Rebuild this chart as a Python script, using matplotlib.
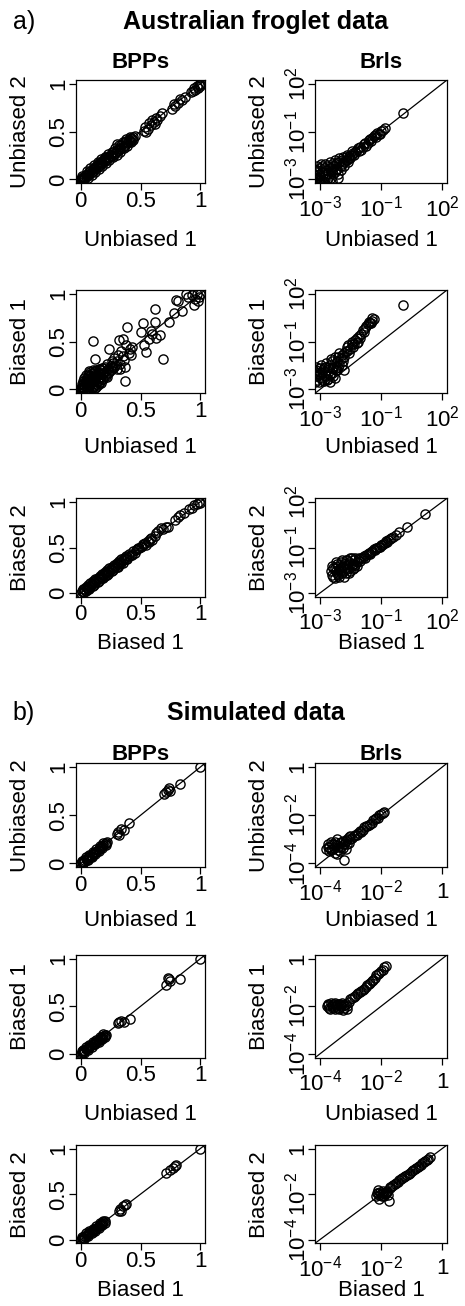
import numpy as np
import matplotlib.pyplot as plt

plt.rcParams['font.family'] = ['Liberation Sans', 'DejaVu Sans']
plt.rcParams['mathtext.fontset'] = 'custom'
plt.rcParams['mathtext.rm'] = 'Liberation Sans'
plt.rcParams['mathtext.it'] = 'Liberation Sans:italic'
plt.rcParams['mathtext.bf'] = 'Liberation Sans:bold'

W, H = 465, 1306

# ---- BPPs (posterior probabilities), pairs of (x, y) ----
froglet_bpp_u1_u2 = [
    (0.00, 0.01), (0.01, 0.00), (0.02, 0.03), (0.02, 0.01), (0.03, 0.02), (0.04, 0.05), (0.04, 0.03),
    (0.05, 0.06), (0.06, 0.05), (0.07, 0.08), (0.07, 0.06), (0.08, 0.09), (0.09, 0.08), (0.10, 0.11),
    (0.10, 0.09), (0.11, 0.12), (0.12, 0.11), (0.13, 0.14), (0.14, 0.13), (0.14, 0.15), (0.15, 0.17),
    (0.16, 0.15), (0.17, 0.18), (0.18, 0.17), (0.19, 0.20), (0.20, 0.21), (0.20, 0.19), (0.21, 0.23),
    (0.22, 0.21), (0.23, 0.24), (0.24, 0.23), (0.25, 0.26), (0.26, 0.25), (0.27, 0.29), (0.28, 0.27),
    (0.29, 0.28), (0.30, 0.31), (0.31, 0.30), (0.32, 0.33), (0.33, 0.32), (0.34, 0.36), (0.35, 0.34),
    (0.36, 0.38), (0.37, 0.36), (0.38, 0.40), (0.39, 0.38), (0.40, 0.41), (0.41, 0.40), (0.42, 0.43),
    (0.43, 0.42), (0.44, 0.44), (0.30, 0.37),
    (0.01, 0.04), (0.03, 0.00), (0.05, 0.09), (0.06, 0.02), (0.08, 0.12), (0.09, 0.05), (0.11, 0.15),
    (0.12, 0.08), (0.14, 0.18), (0.15, 0.11), (0.17, 0.21), (0.18, 0.14), (0.20, 0.24), (0.21, 0.17),
    (0.23, 0.27), (0.24, 0.20), (0.26, 0.29), (0.27, 0.23), (0.29, 0.33), (0.30, 0.26), (0.32, 0.36),
    (0.33, 0.29), (0.35, 0.39), (0.36, 0.33), (0.38, 0.42), (0.39, 0.35), (0.41, 0.44), (0.42, 0.39),
    (0.44, 0.41), (0.45, 0.45), (0.00, 0.00), (0.01, 0.01), (0.03, 0.03), (0.05, 0.05),
    (0.53, 0.51), (0.54, 0.55), (0.56, 0.53), (0.57, 0.59), (0.59, 0.57), (0.60, 0.62), (0.61, 0.60),
    (0.63, 0.64), (0.64, 0.62), (0.66, 0.66), (0.68, 0.69), (0.55, 0.50), (0.62, 0.58),
    (0.76, 0.74), (0.78, 0.79), (0.79, 0.77), (0.81, 0.80), (0.83, 0.84), (0.85, 0.83), (0.87, 0.86),
    (0.92, 0.91), (0.94, 0.93), (0.95, 0.96), (0.96, 0.94), (0.97, 0.98), (0.98, 0.96), (0.99, 0.99),
    (1.00, 1.00), (1.00, 0.98),
]
froglet_bpp_u1_b1 = [
    (0.00, 0.00), (0.01, 0.03), (0.02, 0.01), (0.02, 0.06), (0.03, 0.02), (0.04, 0.09), (0.04, 0.04),
    (0.05, 0.12), (0.05, 0.01), (0.06, 0.07), (0.06, 0.15), (0.07, 0.03), (0.07, 0.10), (0.08, 0.18),
    (0.08, 0.05), (0.09, 0.13), (0.09, 0.02), (0.10, 0.08), (0.10, 0.20), (0.11, 0.04), (0.11, 0.15),
    (0.12, 0.10), (0.12, 0.19), (0.13, 0.06), (0.13, 0.13), (0.14, 0.17), (0.14, 0.09), (0.15, 0.21),
    (0.15, 0.12), (0.16, 0.08), (0.16, 0.16), (0.17, 0.20), (0.17, 0.13), (0.18, 0.11), (0.18, 0.22),
    (0.19, 0.17), (0.20, 0.15), (0.20, 0.24), (0.21, 0.19), (0.22, 0.13), (0.22, 0.27), (0.23, 0.21),
    (0.24, 0.18), (0.24, 0.42), (0.25, 0.25), (0.26, 0.30), (0.27, 0.22), (0.27, 0.28), (0.28, 0.33),
    (0.29, 0.26), (0.30, 0.30), (0.30, 0.21), (0.31, 0.36), (0.32, 0.52), (0.33, 0.27), (0.33, 0.21),
    (0.34, 0.40), (0.35, 0.35), (0.35, 0.53), (0.36, 0.31), (0.37, 0.23), (0.37, 0.09), (0.38, 0.47),
    (0.39, 0.65), (0.40, 0.38), (0.41, 0.42), (0.42, 0.36), (0.43, 0.44), (0.10, 0.51), (0.12, 0.32),
    (0.00, 0.02), (0.01, 0.00), (0.01, 0.06), (0.02, 0.09), (0.03, 0.05), (0.03, 0.12), (0.04, 0.00),
    (0.04, 0.15), (0.05, 0.07), (0.06, 0.11), (0.06, 0.00), (0.07, 0.14), (0.07, 0.19), (0.08, 0.01),
    (0.08, 0.10), (0.09, 0.17), (0.10, 0.03), (0.10, 0.13), (0.11, 0.18), (0.11, 0.09), (0.12, 0.02),
    (0.12, 0.14), (0.13, 0.20), (0.13, 0.03), (0.14, 0.05), (0.14, 0.12), (0.15, 0.07), (0.15, 0.17),
    (0.16, 0.12), (0.16, 0.21), (0.17, 0.07), (0.18, 0.16), (0.19, 0.22), (0.19, 0.11), (0.21, 0.14),
    (0.23, 0.17), (0.25, 0.20), (0.26, 0.24), (0.28, 0.23), (0.05, 0.03), (0.02, 0.03), (0.03, 0.08),
    (0.50, 0.60), (0.52, 0.69), (0.53, 0.47), (0.55, 0.39), (0.57, 0.53), (0.59, 0.61), (0.60, 0.58),
    (0.62, 0.71), (0.62, 0.84), (0.63, 0.54), (0.66, 0.57), (0.69, 0.32), (0.74, 0.71), (0.78, 0.80),
    (0.80, 0.94), (0.81, 0.93), (0.85, 0.82), (0.88, 1.00), (0.90, 0.97), (0.93, 0.99), (0.95, 0.88),
    (0.96, 0.95), (0.97, 1.00), (0.99, 0.97), (1.00, 1.00), (0.98, 0.92),
]
froglet_bpp_b1_b2 = [
    (0.00, 0.00), (0.01, 0.02), (0.02, 0.01), (0.03, 0.04), (0.04, 0.02), (0.05, 0.06), (0.06, 0.04),
    (0.07, 0.08), (0.08, 0.07), (0.09, 0.10), (0.10, 0.08), (0.11, 0.12), (0.12, 0.11), (0.13, 0.14),
    (0.14, 0.12), (0.15, 0.16), (0.16, 0.15), (0.17, 0.18), (0.18, 0.16), (0.19, 0.20), (0.20, 0.19),
    (0.21, 0.22), (0.22, 0.20), (0.23, 0.24), (0.24, 0.23), (0.25, 0.26), (0.26, 0.24), (0.27, 0.28),
    (0.28, 0.27), (0.29, 0.30), (0.30, 0.29), (0.31, 0.32), (0.32, 0.31), (0.33, 0.34), (0.34, 0.33),
    (0.35, 0.36), (0.37, 0.38), (0.38, 0.37), (0.40, 0.41), (0.42, 0.42), (0.44, 0.46), (0.45, 0.44),
    (0.02, 0.04), (0.04, 0.07), (0.06, 0.09), (0.08, 0.11), (0.10, 0.13), (0.12, 0.15), (0.14, 0.17),
    (0.16, 0.19), (0.18, 0.21), (0.20, 0.23), (0.22, 0.25), (0.24, 0.27), (0.26, 0.29), (0.28, 0.31),
    (0.30, 0.33), (0.32, 0.35), (0.34, 0.37), (0.36, 0.39), (0.38, 0.41), (0.40, 0.43), (0.03, 0.01),
    (0.07, 0.05), (0.11, 0.09), (0.15, 0.13), (0.19, 0.17), (0.23, 0.21), (0.27, 0.25), (0.31, 0.29),
    (0.35, 0.33), (0.39, 0.37), (0.43, 0.42), (0.46, 0.47), (0.48, 0.49), (0.50, 0.51), (0.52, 0.54),
    (0.54, 0.55), (0.56, 0.57), (0.58, 0.59),
    (0.47, 0.48), (0.49, 0.50), (0.51, 0.52), (0.53, 0.54), (0.55, 0.53), (0.57, 0.56), (0.59, 0.60),
    (0.60, 0.58), (0.62, 0.63), (0.63, 0.66), (0.65, 0.68), (0.67, 0.71), (0.69, 0.70), (0.71, 0.72),
    (0.73, 0.73), (0.79, 0.80), (0.81, 0.84), (0.83, 0.86), (0.86, 0.88), (0.91, 0.92), (0.93, 0.93),
    (0.95, 0.97), (0.97, 0.98), (0.99, 1.00), (1.00, 0.99),
]
sim_bpp_u1_u2 = [
    (0.00, 0.00), (0.01, 0.01), (0.02, 0.02), (0.02, 0.00), (0.03, 0.04), (0.04, 0.05), (0.05, 0.04),
    (0.06, 0.06), (0.07, 0.07), (0.08, 0.08), (0.09, 0.08), (0.10, 0.10), (0.11, 0.11), (0.12, 0.12),
    (0.13, 0.12), (0.14, 0.14), (0.15, 0.15), (0.16, 0.16), (0.17, 0.17), (0.18, 0.18), (0.19, 0.19),
    (0.20, 0.20), (0.21, 0.21), (0.22, 0.22),
    (0.01, 0.03), (0.03, 0.01), (0.04, 0.07), (0.06, 0.04), (0.07, 0.09), (0.09, 0.07), (0.10, 0.12),
    (0.12, 0.10), (0.13, 0.15), (0.15, 0.13), (0.16, 0.18), (0.18, 0.16), (0.19, 0.21), (0.21, 0.19),
    (0.30, 0.31), (0.31, 0.33), (0.32, 0.30), (0.34, 0.36), (0.36, 0.35), (0.40, 0.42),
    (0.70, 0.72), (0.71, 0.74), (0.73, 0.76), (0.74, 0.78), (0.75, 0.75), (0.83, 0.83), (1.00, 1.00),
]
sim_bpp_u1_b1 = [
    (0.00, 0.00), (0.01, 0.01), (0.02, 0.02), (0.02, 0.04), (0.03, 0.03), (0.04, 0.05), (0.05, 0.05),
    (0.06, 0.06), (0.07, 0.07), (0.08, 0.08), (0.09, 0.09), (0.10, 0.10), (0.11, 0.10), (0.12, 0.12),
    (0.13, 0.13), (0.14, 0.14), (0.15, 0.15), (0.16, 0.16), (0.17, 0.17), (0.18, 0.18), (0.19, 0.19),
    (0.20, 0.20), (0.21, 0.20),
    (0.01, 0.03), (0.03, 0.01), (0.04, 0.07), (0.06, 0.04), (0.07, 0.09), (0.09, 0.07), (0.10, 0.12),
    (0.12, 0.10), (0.13, 0.15), (0.15, 0.13), (0.16, 0.18), (0.18, 0.16), (0.19, 0.21), (0.20, 0.18),
    (0.31, 0.32), (0.32, 0.34), (0.34, 0.35), (0.36, 0.34), (0.41, 0.37),
    (0.71, 0.72), (0.73, 0.80), (0.74, 0.79), (0.75, 0.77), (0.83, 0.79), (1.00, 1.00),
]
sim_bpp_b1_b2 = [
    (0.00, 0.00), (0.01, 0.01), (0.02, 0.02), (0.03, 0.02), (0.03, 0.04), (0.04, 0.04), (0.05, 0.05),
    (0.06, 0.06), (0.07, 0.07), (0.08, 0.08), (0.09, 0.09), (0.10, 0.10), (0.11, 0.11), (0.12, 0.12),
    (0.13, 0.13), (0.14, 0.14), (0.15, 0.15), (0.16, 0.16), (0.17, 0.17), (0.18, 0.18), (0.19, 0.19),
    (0.20, 0.20),
    (0.01, 0.03), (0.03, 0.01), (0.04, 0.07), (0.06, 0.04), (0.07, 0.09), (0.09, 0.07), (0.10, 0.12),
    (0.12, 0.10), (0.13, 0.15), (0.15, 0.13), (0.16, 0.18), (0.18, 0.16), (0.19, 0.21), (0.20, 0.18),
    (0.32, 0.32), (0.33, 0.34), (0.35, 0.37), (0.37, 0.38), (0.38, 0.39), (0.34, 0.31),
    (0.71, 0.73), (0.75, 0.76), (0.77, 0.79), (0.79, 0.81), (0.80, 0.82), (1.00, 1.00),
]

# ---- Brls, stored as log10 values, pairs of (x, y) ----
froglet_brl_u1_u2 = [
    (-3.20, -3.20), (-3.15, -2.90), (-3.10, -3.10), (-3.05, -2.70), (-3.00, -3.15), (-2.95, -2.95),
    (-2.90, -2.60), (-2.85, -3.10), (-2.80, -2.80), (-2.75, -2.50), (-2.70, -3.00), (-2.65, -2.65),
    (-2.60, -2.40), (-2.55, -2.90), (-2.50, -2.55), (-2.45, -2.30), (-2.40, -2.60), (-2.35, -2.20),
    (-2.30, -2.45), (-2.27, -2.91), (-2.20, -2.10), (-2.15, -2.30), (-2.10, -2.00), (-2.00, -2.10),
    (-1.95, -1.85), (-1.90, -2.00), (-1.80, -1.75), (-1.75, -1.90), (-1.65, -1.60), (-1.60, -1.70),
    (-1.50, -1.45), (-1.40, -1.50), (-1.35, -1.30), (-1.25, -1.30), (-1.15, -1.10), (-1.05, -1.10),
    (-0.95, -0.90), (-0.85, -0.85), (-0.75, -0.70), (-0.60, -0.60), (-0.48, -0.47), (0.41, 0.49),
    (-3.20, -2.50), (-3.10, -2.30), (-2.90, -2.30),
    (-3.20, -3.00), (-3.20, -2.80), (-3.15, -2.60), (-3.10, -2.90), (-3.10, -2.50), (-3.05, -3.20),
    (-3.00, -2.40), (-3.00, -2.80), (-2.95, -2.20), (-2.90, -3.15), (-2.85, -2.40), (-2.80, -2.20),
    (-2.80, -3.00), (-2.75, -2.70), (-2.70, -2.30), (-2.65, -2.90), (-2.60, -2.10), (-2.55, -2.50),
    (-2.50, -3.10), (-2.50, -2.20), (-2.45, -2.70), (-2.40, -2.00), (-2.35, -2.50), (-2.30, -2.10),
    (-2.25, -2.70), (-2.20, -1.90), (-2.15, -2.50), (-2.10, -2.20), (-2.05, -1.80), (-2.00, -2.30),
    (-1.95, -2.00), (-1.90, -1.70), (-1.85, -2.10), (-1.80, -1.90), (-1.70, -1.70), (-1.70, -1.50),
    (-1.55, -1.55), (-1.45, -1.35), (-1.30, -1.45), (-1.20, -1.15), (-1.10, -1.25), (-1.00, -0.95),
    (-0.90, -1.00), (-0.80, -0.75), (-0.70, -0.80), (-0.65, -0.55), (-0.55, -0.60), (-0.40, -0.42),
    (-0.35, -0.30),
]
froglet_brl_u1_b1 = [
    (-3.20, -2.30), (-3.15, -2.00), (-3.10, -2.50), (-3.05, -2.20), (-3.00, -1.90), (-2.95, -2.40),
    (-2.90, -2.10), (-2.85, -2.55), (-2.80, -1.80), (-2.75, -2.30), (-2.70, -2.00), (-2.65, -2.45),
    (-2.60, -1.70), (-2.55, -2.15), (-2.50, -1.50), (-2.45, -1.90), (-2.40, -2.40), (-2.35, -1.60),
    (-2.30, -2.00), (-2.25, -1.30), (-2.20, -1.70), (-2.10, -1.20), (-2.05, -1.50), (-1.95, -1.00),
    (-1.90, -0.80), (-1.80, -1.10), (-1.70, -0.60), (-1.65, -0.80), (-1.55, -0.40), (-1.45, -0.50),
    (-1.40, -0.20), (-1.30, -0.10), (-1.25, 0.10), (-1.15, 0.20), (-1.05, 0.40), (-0.95, 0.50),
    (-0.85, 0.60), (-0.80, 0.70), (0.41, 1.40), (-2.60, -2.60), (-2.00, -2.00),
    (-3.20, -2.60), (-3.20, -2.10), (-3.15, -1.80), (-3.10, -2.30), (-3.05, -2.60), (-3.00, -2.10),
    (-2.95, -1.70), (-2.90, -2.50), (-2.85, -1.90), (-2.80, -2.20), (-2.75, -1.60), (-2.70, -2.50),
    (-2.65, -1.80), (-2.60, -2.20), (-2.55, -1.40), (-2.50, -1.90), (-2.45, -2.30), (-2.40, -1.30),
    (-2.35, -2.00), (-2.30, -1.50), (-2.25, -1.80), (-2.20, -1.10), (-2.15, -1.40), (-2.10, -1.70),
    (-2.00, -1.10), (-2.00, -1.30), (-1.90, -1.00), (-1.85, -0.70), (-1.75, -0.90), (-1.70, -0.50),
    (-1.60, -0.60), (-1.50, -0.30), (-1.50, -0.55), (-1.35, -0.30), (-1.20, 0.00), (-1.10, 0.30),
    (-1.00, 0.55), (-0.90, 0.45), (-0.85, 0.75), (-2.34, -1.87),
]
froglet_brl_b1_b2 = [
    (-2.50, -2.00), (-2.45, -1.60), (-2.40, -2.20), (-2.35, -1.80), (-2.30, -1.40), (-2.25, -2.00),
    (-2.20, -1.70), (-2.15, -1.30), (-2.10, -1.90), (-2.05, -1.50), (-2.00, -2.10), (-1.95, -1.20),
    (-1.90, -1.70), (-1.85, -1.40), (-1.80, -1.90), (-1.75, -1.10), (-1.70, -1.50), (-1.65, -1.70),
    (-1.60, -1.20), (-1.55, -1.45), (-1.50, -1.30), (-1.40, -1.10), (-1.30, -1.05), (-1.20, -0.95),
    (-1.10, -0.90), (-1.00, -0.80), (-0.90, -0.75), (-0.80, -0.60), (-0.70, -0.55), (-0.60, -0.45),
    (-0.50, -0.35), (-0.40, -0.30), (-0.30, -0.15), (-0.20, -0.10), (-0.10, 0.00), (0.00, 0.10),
    (0.10, 0.20), (0.25, 0.35), (0.55, 0.62), (1.31, 1.32),
    (-2.55, -1.80), (-2.50, -1.50), (-2.45, -2.10), (-2.40, -1.60), (-2.35, -1.30), (-2.30, -1.90),
    (-2.25, -1.50), (-2.20, -2.10), (-2.15, -1.60), (-2.10, -1.20), (-2.05, -1.80), (-2.00, -1.40),
    (-1.95, -1.90), (-1.90, -1.20), (-1.85, -1.60), (-1.80, -1.30), (-1.75, -1.80), (-1.70, -1.10),
    (-1.65, -1.40), (-1.60, -1.60), (-1.55, -1.10), (-1.50, -1.50), (-1.45, -1.20), (-1.35, -1.25),
    (-1.25, -1.10), (-1.15, -1.05), (-1.05, -0.85), (-0.95, -0.85), (-0.85, -0.70), (-0.75, -0.65),
    (-0.65, -0.50), (-0.55, -0.45), (-0.45, -0.35), (-0.35, -0.25), (-0.25, -0.20), (-0.15, -0.05),
]
sim_brl_u1_u2 = [
    (-3.75, -3.30), (-3.70, -3.50), (-3.65, -3.10), (-3.60, -3.40), (-3.55, -3.20), (-3.50, -3.55),
    (-3.45, -3.00), (-3.40, -3.30), (-3.35, -3.50), (-3.30, -3.10), (-3.25, -3.35), (-3.20, -3.86),
    (-3.15, -3.05), (-3.10, -3.20), (-3.05, -2.90), (-3.00, -3.00), (-2.90, -2.85), (-2.80, -2.80),
    (-2.70, -2.65), (-2.60, -2.60), (-2.50, -2.45), (-2.40, -2.40), (-2.30, -2.30), (-2.20, -2.15),
    (-2.10, -2.10), (-2.00, -1.95), (-1.90, -1.85), (-3.45, -3.60), (-2.65, -2.70),
    (-3.80, -3.40), (-3.75, -3.20), (-3.70, -3.30), (-3.65, -3.45), (-3.60, -3.20), (-3.55, -3.35),
    (-3.50, -3.10), (-3.45, -3.25), (-3.40, -3.45), (-3.35, -3.15), (-3.30, -3.30), (-3.25, -3.05),
    (-3.20, -3.20), (-3.15, -3.40), (-3.10, -3.00), (-3.05, -3.15), (-3.00, -2.85), (-2.95, -2.95),
    (-2.85, -2.80), (-2.75, -2.75), (-2.55, -2.50), (-2.45, -2.45), (-2.35, -2.35), (-2.25, -2.20),
    (-2.15, -2.10), (-2.05, -2.00), (-1.95, -1.90),
]
sim_brl_u1_b1 = [
    (-3.75, -1.95), (-3.70, -2.05), (-3.65, -1.85), (-3.60, -2.00), (-3.55, -1.90), (-3.50, -2.10),
    (-3.45, -1.95), (-3.40, -2.05), (-3.35, -1.90), (-3.30, -2.00), (-3.25, -2.15), (-3.20, -1.95),
    (-3.10, -2.10), (-3.05, -1.80), (-3.00, -1.70), (-2.90, -1.60), (-2.80, -1.50), (-2.70, -1.40),
    (-2.60, -1.30), (-2.50, -1.20), (-2.40, -1.05), (-2.30, -0.95), (-2.20, -0.80), (-2.10, -0.65),
    (-2.00, -0.50), (-1.90, -0.35), (-1.85, -0.30),
    (-3.78, -2.00), (-3.72, -1.90), (-3.68, -2.10), (-3.62, -1.95), (-3.58, -2.05), (-3.52, -1.85),
    (-3.48, -2.00), (-3.42, -1.90), (-3.38, -2.10), (-3.32, -1.95), (-3.28, -1.85), (-3.22, -2.05),
    (-3.15, -1.90), (-3.12, -2.00), (-2.95, -1.65), (-2.85, -1.55), (-2.75, -1.45), (-2.65, -1.35),
    (-2.55, -1.25), (-2.45, -1.10), (-2.35, -1.00), (-2.25, -0.90), (-2.15, -0.70), (-2.05, -0.60),
    (-1.95, -0.45),
]
sim_brl_b1_b2 = [
    (-2.15, -2.10), (-2.10, -1.95), (-2.05, -2.20), (-2.00, -2.00), (-1.95, -1.85), (-1.90, -2.10),
    (-1.85, -1.95), (-2.10, -1.80), (-1.80, -1.85), (-1.75, -2.30), (-1.70, -1.70), (-1.60, -1.60),
    (-1.50, -1.50), (-1.40, -1.40), (-1.30, -1.30), (-1.20, -1.20), (-1.10, -1.10), (-1.00, -1.00),
    (-0.90, -0.90), (-0.80, -0.80), (-0.70, -0.70), (-0.60, -0.60), (-0.50, -0.50), (-0.40, -0.35),
    (-2.12, -1.95), (-2.08, -2.05), (-2.02, -1.90), (-1.98, -2.10), (-1.92, -1.95), (-1.88, -2.00),
    (-1.82, -1.90), (-1.78, -2.05), (-1.72, -1.75), (-1.65, -1.65), (-1.55, -1.55), (-1.45, -1.45),
    (-1.35, -1.35), (-1.25, -1.25), (-1.15, -1.15), (-1.05, -1.05), (-0.95, -0.95), (-0.85, -0.85),
    (-0.75, -0.75), (-0.65, -0.65), (-0.55, -0.55), (-0.45, -0.45),
]

bpp_data = [froglet_bpp_u1_u2, froglet_bpp_u1_b1, froglet_bpp_b1_b2,
            sim_bpp_u1_u2, sim_bpp_u1_b1, sim_bpp_b1_b2]
brl_data = [froglet_brl_u1_u2, froglet_brl_u1_b1, froglet_brl_b1_b2,
            sim_brl_u1_u2, sim_brl_u1_b1, sim_brl_b1_b2]

axis_names = [('Unbiased 1', 'Unbiased 2'), ('Unbiased 1', 'Biased 1'), ('Biased 1', 'Biased 2')] * 2
col_titles = ['BPPs', 'Brls']
group_titles = [('a)', 'Australian froglet data'), ('b)', 'Simulated data')]

bpp_ticks = [0, 0.5, 1]
bpp_ticklabels = ['0', '0.5', '1']
froglet_brl_ticks = [1e-3, 10 ** -0.5, 1e2]
froglet_brl_ticklabels = [r'$10^{-3}$', r'$10^{-1}$', r'$10^{2}$']
sim_brl_ticks = [1e-4, 1e-2, 1]
sim_brl_ticklabels = [r'$10^{-4}$', r'$10^{-2}$', '1']

# layout in pixels (top-left origin)
row_tops = [80, 290, 498.3, 763.3, 955, 1145]
row_bottoms = [183.3, 393.3, 596.7, 867.3, 1057.7, 1243.3]
xlabel_offsets = [63, 60, 52, 59, 62, 53]
col_lefts = [76, 315]
col_rights = [205, 447]

fig = plt.figure(figsize=(W / 100, H / 100), dpi=100)


def fx(px):
    return px / W


def fy(py):
    return 1 - py / H


def style_axes(ax, xpad):
    for sp in ax.spines.values():
        sp.set_linewidth(0.9)
    ax.tick_params(direction='out', length=5.0, width=0.9, labelsize=16, colors='black')
    ax.tick_params(axis='x', pad=xpad)
    ax.tick_params(axis='y', pad=7.5)
    for lab in ax.get_yticklabels():
        lab.set_rotation(90)
        lab.set_ha('center')
        lab.set_va('center')
    for lab in ax.get_xticklabels():
        lab.set_va('center')


for r in range(6):
    top, bottom = row_tops[r], row_bottoms[r]
    xname, yname = axis_names[r]
    froglet = r < 3
    for c in range(2):
        left, right = col_lefts[c], col_rights[c]
        ax = fig.add_axes([fx(left), fy(bottom), (right - left) / W, (bottom - top) / H])
        if c == 0:
            pts = np.array(bpp_data[r])
            lim = (-0.04, 1.04)
            ticks, labels = bpp_ticks, bpp_ticklabels
            xpad = 8.0
        else:
            pts = 10 ** np.array(brl_data[r])
            ax.set_xscale('log')
            ax.set_yscale('log')
            xpad = 13.0
            if froglet:
                lim = (10 ** -3.2, 10 ** 2.2)
                ticks, labels = froglet_brl_ticks, froglet_brl_ticklabels
            else:
                lim = (10 ** -4.16, 10 ** 0.16)
                ticks, labels = sim_brl_ticks, sim_brl_ticklabels
        ax.plot(pts[:, 0], pts[:, 1], 'o', mfc='none', mec='black', ms=6.6, mew=1.0)
        ax.plot(lim, lim, color='black', lw=0.9)
        ax.set_xlim(lim)
        ax.set_ylim(lim)
        ax.set_xticks(ticks, labels)
        ax.set_yticks(ticks, labels)
        ax.minorticks_off()
        style_axes(ax, xpad)

        cx = (left + right) / 2
        fig.text(fx(cx), fy(bottom + xlabel_offsets[r]), xname, fontsize=16,
                 ha='center', va='baseline')
        fig.text(fx(left - 50), fy((top + bottom) / 2), yname, fontsize=16, rotation=90,
                 rotation_mode='anchor', ha='center', va='baseline')
        if r in (0, 3):
            title_base = 68.3 if r == 0 else 760
            fig.text(fx(cx), fy(title_base), col_titles[c], fontsize=16, weight='bold',
                     ha='center', va='baseline')

# group headings
for (tag, title), base in zip(group_titles, [29, 720]):
    fig.text(fx(12.5), fy(base), tag, fontsize=18, ha='left', va='baseline')
    fig.text(fx(256), fy(base), title, fontsize=18, weight='bold', ha='center', va='baseline')

fig.savefig('out.png', dpi=100)
